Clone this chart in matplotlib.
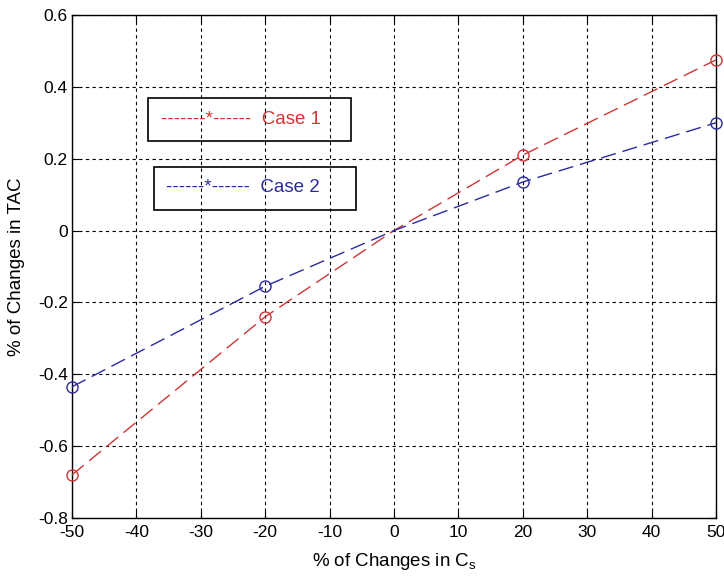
import numpy as np
import matplotlib.pyplot as plt
from matplotlib.patches import Rectangle

plt.rcParams['font.family'] = ['Liberation Sans', 'DejaVu Sans']
plt.rcParams['mathtext.fontset'] = 'custom'
plt.rcParams['mathtext.rm'] = 'Liberation Sans'
plt.rcParams['mathtext.it'] = 'Liberation Sans'
plt.rcParams['axes.unicode_minus'] = False

# % change in Cs
change_cs = [-50, -20, 0, 20, 50]
case1_tac = [-0.68, -0.24, 0.0, 0.21, 0.475]
case2_tac = [-0.435, -0.155, 0.0, 0.135, 0.30]

RED = "#d03535"
BLUE = "#2b2ba0"

fig = plt.figure(figsize=(7.24, 5.79), dpi=100)
ax = fig.add_axes([0.0994, 0.1054, 0.8895, 0.8687])

marks = [0, 1, 3, 4]  # no circle drawn at the origin
ax.plot(change_cs, case1_tac, color=RED, linewidth=1.0, dashes=(11, 5),
        marker="o", markersize=8, markerfacecolor="none", markeredgewidth=1.0,
        markevery=marks, clip_on=False, zorder=3)
ax.plot(change_cs, case2_tac, color=BLUE, linewidth=1.0, dashes=(11, 5),
        marker="o", markersize=8, markerfacecolor="none", markeredgewidth=1.0,
        markevery=marks, clip_on=False, zorder=3)

ax.set_xlim(-50, 50)
ax.set_ylim(-0.8, 0.6)
ax.set_xticks(np.arange(-50, 51, 10))
ax.set_yticks(np.arange(-0.8, 0.61, 0.2))
ax.set_yticklabels(["-0.8", "-0.6", "-0.4", "-0.2", "0", "0.2", "0.4", "0.6"])
ax.grid(True, color="black", linestyle=(0, (3, 3)), linewidth=0.8)
ax.tick_params(direction="in", top=True, right=True, length=5,
               labelsize=12.5, colors="black")
ax.tick_params(axis="x", pad=5)
ax.tick_params(axis="y", pad=3)
for s in ax.spines.values():
    s.set_linewidth(1.0)

ax.set_xlabel("% of Changes in C$_\\mathrm{s}$", fontsize=13.5, labelpad=8)
ax.set_ylabel("% of Changes in TAC", fontsize=13.5, labelpad=9)

# hand-made legend boxes, like the original
ax.add_patch(Rectangle((0.118, 0.7495), 0.315, 0.0855, transform=ax.transAxes,
                       fill=False, edgecolor="black", linewidth=1.2, zorder=4))
ax.add_patch(Rectangle((0.127, 0.612), 0.314, 0.086, transform=ax.transAxes,
                       fill=False, edgecolor="black", linewidth=1.2, zorder=4))
ax.text(0.138, 0.793, "-------*------  Case 1", color=RED, fontsize=13.5,
        transform=ax.transAxes, va="center", ha="left")
ax.text(0.146, 0.658, "------*------  Case 2", color=BLUE, fontsize=13.5,
        transform=ax.transAxes, va="center", ha="left")

fig.savefig("out.png", dpi=100)
